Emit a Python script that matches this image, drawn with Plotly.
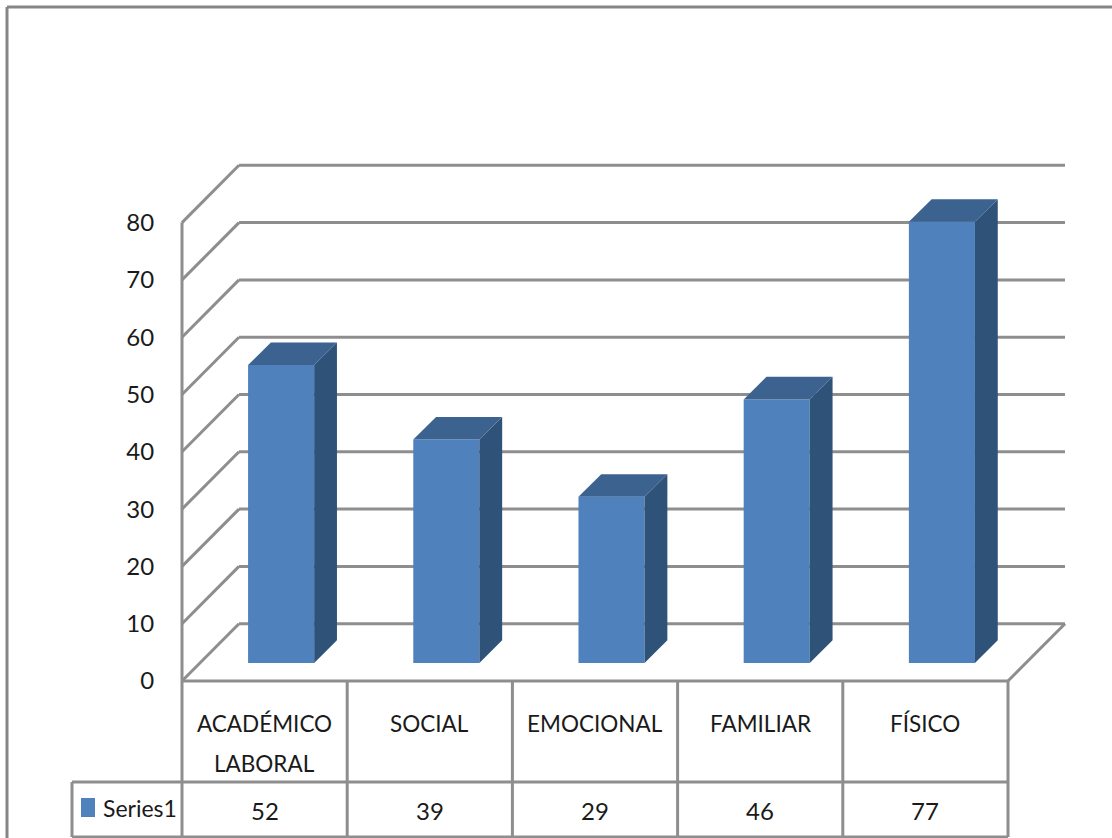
import plotly.graph_objects as go

# ---- data ----
categories = [["ACADÉMICO", "LABORAL"], ["SOCIAL"], ["EMOCIONAL"], ["FAMILIAR"], ["FÍSICO"]]
values = [52, 39, 29, 46, 77]
series_name = "Series1"
y_ticks = [0, 10, 20, 30, 40, 50, 60, 70, 80]

# ---- geometry (pixel scale of the page) ----
W, H = 1112, 838
PX_Y = 5.73      # px per value unit
PX_X = 165.2     # px per category
X0, Y0 = 182, 681


def xu(px):
    return (px - X0) / PX_X - 0.5


def yu(py):
    return (Y0 - py) / PX_Y


FONT = "Lato"
GRID = "#8e8e8e"
TEXT = "#1a1a1a"
FRONT, SIDE, TOP = "#4f81bd", "#2f5279", "#3c6290"

wall_dx, wall_dy = 0.345, 10.0
bar_base = 3.14
bar_off, bar_w = 0.10, 0.40
dep_dx, dep_dy = 0.138, 3.95
n = len(values)

fig = go.Figure()
xs = [i + bar_off for i in range(n)]
fig.add_trace(go.Bar(x=xs, y=values, base=bar_base, width=bar_w, name=series_name,
                     marker=dict(color=FRONT, line=dict(width=0)), showlegend=False))

for i, v in enumerate(values):
    l, r = xs[i] - bar_w / 2, xs[i] + bar_w / 2
    top = bar_base + v
    fig.add_trace(go.Scatter(x=[r, r + dep_dx, r + dep_dx, r, r],
                             y=[bar_base, bar_base + dep_dy, top + dep_dy, top, bar_base],
                             mode="lines", fill="toself", fillcolor=SIDE, line=dict(width=0),
                             showlegend=False, hoverinfo="skip"))
    fig.add_trace(go.Scatter(x=[l, l + dep_dx, r + dep_dx, r, l],
                             y=[top, top + dep_dy, top + dep_dy, top, top],
                             mode="lines", fill="toself", fillcolor=TOP, line=dict(width=0),
                             showlegend=False, hoverinfo="skip"))

shapes = []


def seg(x0, y0, x1, y1, color=GRID, width=3):
    shapes.append(dict(type="line", xref="x", yref="y", x0=x0, y0=y0, x1=x1, y1=y1,
                       line=dict(color=color, width=width), layer="below"))


left, right = -0.5, n - 0.5
# walls and gridlines
for t in y_ticks:
    seg(left, t, left + wall_dx, t + wall_dy)
    seg(left + wall_dx, t + wall_dy, right + wall_dx, t + wall_dy)
seg(left, 0, left, y_ticks[-1])
seg(right, 0, right + wall_dx, wall_dy)
# data table
row1, row2 = yu(782), yu(837)
seg(left, 0, right, 0)
seg(xu(72), row1, right, row1)
seg(xu(72), row2, right, row2)
seg(xu(72), row1, xu(72), row2)
for i in range(n + 1):
    seg(left + i, 0, left + i, row2)
# outer frame
seg(xu(7), yu(7), xu(W), yu(7), "#868686", 3)
seg(xu(7), yu(7), xu(7), yu(H), "#868686", 3)
# legend key
shapes.append(dict(type="rect", xref="x", yref="y", x0=xu(81), x1=xu(95), y0=yu(798), y1=yu(817),
                   fillcolor=FRONT, line=dict(width=0), layer="above"))

annots = []
line_y = [yu(723), yu(763)]
for i, cat in enumerate(categories):
    for j, line in enumerate(cat):
        annots.append(dict(x=i, y=line_y[j], xref="x", yref="y", text=line, showarrow=False,
                           font=dict(family=FONT, size=22.5, color=TEXT)))
    annots.append(dict(x=i, y=yu(810), xref="x", yref="y", text=str(values[i]), showarrow=False,
                       font=dict(family=FONT, size=24, color=TEXT)))
annots.append(dict(x=xu(101), y=yu(808), xref="x", yref="y", text=series_name, showarrow=False,
                   xanchor="left", font=dict(family=FONT, size=23, color=TEXT)))

fig.update_layout(
    width=W, height=H, margin=dict(l=0, r=0, t=0, b=0),
    paper_bgcolor="white", plot_bgcolor="white", showlegend=False,
    shapes=shapes, annotations=annots,
    xaxis=dict(range=[xu(0), xu(W)], visible=False, domain=[0, 1], fixedrange=True),
    yaxis=dict(range=[yu(H), yu(0)], anchor="free", position=X0 / W, domain=[0, 1],
               tickmode="array", tickvals=y_ticks, ticktext=[str(t) for t in y_ticks],
               ticks="outside", ticklen=23, tickcolor="rgba(255,255,255,0)", showgrid=False,
               zeroline=False, showline=False, fixedrange=True,
               tickfont=dict(family=FONT, size=24, color=TEXT)),
)

fig.write_html("out.html", config={"displayModeBar": False},
               post_script="document.body.style.margin='0';document.documentElement.style.overflow='hidden';")
